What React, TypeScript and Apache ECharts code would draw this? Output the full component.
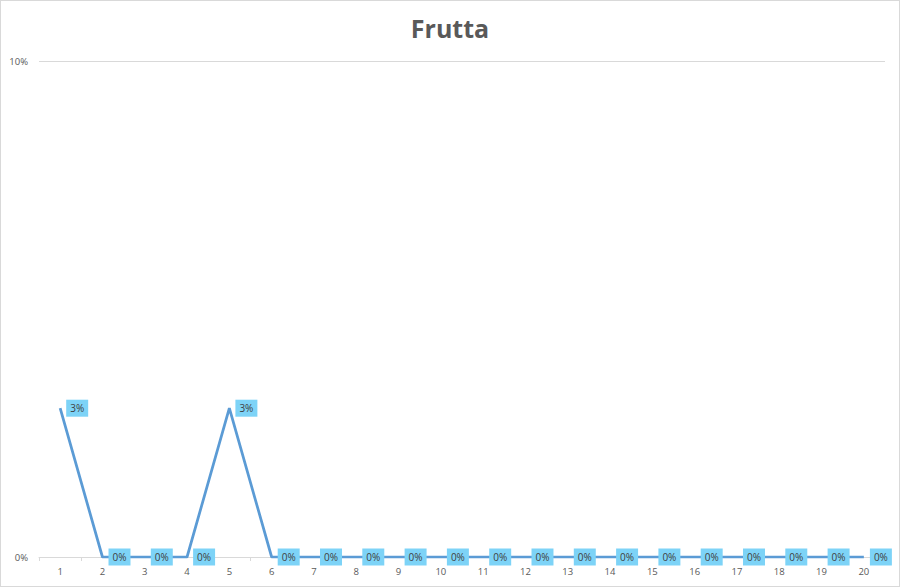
import { useEffect, useRef } from "react";
import * as echarts from "echarts";

const categories = ["1", "2", "3", "4", "5", "6", "7", "8", "9", "10", "11", "12", "13", "14", "15", "16", "17", "18", "19", "20"];
const values = [0.03, 0, 0, 0, 0.03, 0, 0, 0, 0, 0, 0, 0, 0, 0, 0, 0, 0, 0, 0, 0];
const yTicks = [0, 0.1];

const pct = (v: number) => `${Math.round(v * 100)}%`;

export default function App() {
  const chartRef = useRef<HTMLDivElement>(null);

  useEffect(() => {
    if (!chartRef.current) return;
    const chart = echarts.init(chartRef.current, undefined, { renderer: "svg" });

    chart.setOption({
      animation: false,
      backgroundColor: "#ffffff",
      title: {
        text: "Frutta",
        left: "center",
        top: 9,
        textStyle: {
          fontFamily: "Open Sans",
          fontWeight: "bold",
          fontSize: 25,
          color: "#595959",
        },
      },
      grid: { left: 38, right: 14, top: 60, bottom: 29 },
      xAxis: {
        type: "category",
        data: categories,
        boundaryGap: true,
        axisLine: { lineStyle: { color: "#d9d9d9", width: 1 } },
        axisTick: { show: true, length: 4, lineStyle: { color: "#d9d9d9" } },
        axisLabel: { color: "#595959", fontSize: 9.5, fontFamily: "Open Sans", margin: 9 },
        splitLine: { show: false },
      },
      yAxis: {
        type: "value",
        min: yTicks[0],
        max: yTicks[yTicks.length - 1],
        interval: 0.1,
        axisLine: { show: false },
        axisTick: { show: false },
        axisLabel: {
          color: "#595959",
          fontSize: 9.5,
          fontFamily: "Open Sans",
          margin: 11,
          formatter: (v: number) => pct(v),
        },
        splitLine: { lineStyle: { color: "#d9d9d9", width: 1 } },
      },
      series: [
        {
          type: "line",
          data: values,
          showSymbol: true,
          symbol: "circle",
          symbolSize: 0.1,
          itemStyle: { color: "#5b9bd5" },
          lineStyle: { color: "#5b9bd5", width: 2.75 },
          label: {
            show: true,
            position: "right",
            distance: 6,
            formatter: (p: { value: number }) => pct(p.value),
            backgroundColor: "#7dd3f7",
            color: "#404040",
            fontSize: 10,
            fontFamily: "Open Sans",
            padding: [4, 4, 3, 4],
          },
        },
      ],
    });

    return () => chart.dispose();
  }, []);

  return (
    <div
      ref={chartRef}
      style={{
        position: "absolute",
        left: 0,
        top: 0,
        width: 900,
        height: 587,
        border: "1px solid #d9d9d9",
        boxSizing: "border-box",
      }}
    />
  );
}
